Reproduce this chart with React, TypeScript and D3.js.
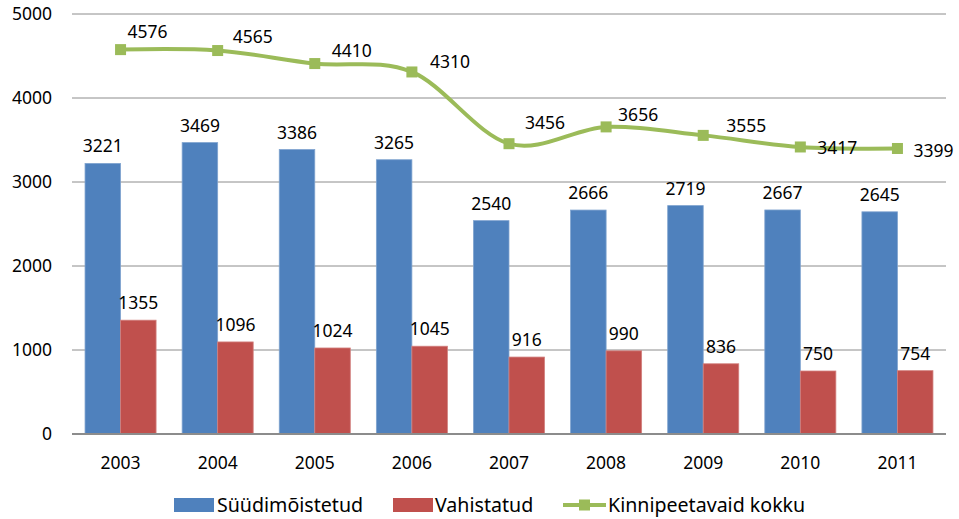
import { useRef, useEffect } from "react";
import * as d3 from "d3";

// andmed (loetud pildilt)
const years = ["2003", "2004", "2005", "2006", "2007", "2008", "2009", "2010", "2011"];
const suudimoistetud = [3221, 3469, 3386, 3265, 2540, 2666, 2719, 2667, 2645];
const vahistatud = [1355, 1096, 1024, 1045, 916, 990, 836, 750, 754];
const kokku = [4576, 4565, 4410, 4310, 3456, 3656, 3555, 3417, 3399];
const yTicks = [0, 1000, 2000, 3000, 4000, 5000];

const seriesNames = ["Süüdimõistetud", "Vahistatud", "Kinnipeetavaid kokku"];
const colors = ["#4F81BD", "#C0504D", "#9BBB59"];

// joone siltide nihked punkti suhtes (käsitsi paigutatud nagu Excelis)
const lineLabelNudge: [number, number][] = [
  [7, -18], [15, -14], [17, -13], [18, -10], [16, -21],
  [12, -12], [23, -10], [17, 1], [16, 2],
];

const W = 959;
const H = 519;
const FONT = "'Noto Sans', 'Open Sans', sans-serif";

const App = () => {
  const svgRef = useRef<SVGSVGElement | null>(null);

  useEffect(() => {
    const svg = d3.select(svgRef.current);
    svg.selectAll("*").remove();

    const x = d3.scaleBand<string>().domain(years).range([72, 946]).padding(0);
    const xInner = d3
      .scaleBand<string>()
      .domain(["a", "b"])
      .range([0, x.bandwidth()])
      .paddingInner(0)
      .paddingOuter(0.367);
    const y = d3.scaleLinear().domain([0, 5000]).range([434, 14]);

    // ruudustik
    const grid = svg.append("g");
    grid
      .selectAll("line")
      .data(yTicks.filter((t) => t > 0))
      .join("line")
      .attr("x1", 72)
      .attr("x2", 946)
      .attr("y1", (d) => y(d))
      .attr("y2", (d) => y(d))
      .attr("stroke", "#8c8c8c")
      .attr("stroke-width", 1);

    // y telje sildid
    svg
      .append("g")
      .selectAll("text")
      .data(yTicks)
      .join("text")
      .attr("x", 52)
      .attr("y", (d) => y(d))
      .attr("dy", "0.35em")
      .attr("text-anchor", "end")
      .attr("font-family", FONT)
      .attr("font-size", 17.5)
      .attr("fill", "#000")
      .text((d) => d);

    // tulbad
    const bars = [suudimoistetud, vahistatud];
    bars.forEach((vals, si) => {
      const key = si === 0 ? "a" : "b";
      const g = svg.append("g");
      g.selectAll("rect")
        .data(vals)
        .join("rect")
        .attr("x", (d, i) => (x(years[i]) as number) + (xInner(key) as number))
        .attr("y", (d) => y(d))
        .attr("width", xInner.bandwidth())
        .attr("height", (d) => y(0) - y(d))
        .attr("fill", colors[si])
        .attr("stroke", si === 0 ? "#7FA3CF" : "#D2807E")
        .attr("stroke-width", 0.8);
      g.selectAll("text")
        .data(vals)
        .join("text")
        .attr("x", (d, i) => (x(years[i]) as number) + (xInner(key) as number) + xInner.bandwidth() / 2)
        .attr("y", (d) => y(d) - 11)
        .attr("text-anchor", "middle")
        .attr("font-family", FONT)
        .attr("font-size", 17.5)
        .attr("fill", "#000")
        .text((d) => d);
    });

    // x telg
    svg
      .append("line")
      .attr("x1", 72)
      .attr("x2", 946)
      .attr("y1", y(0))
      .attr("y2", y(0))
      .attr("stroke", "#8c8c8c")
      .attr("stroke-width", 2);

    svg
      .append("g")
      .selectAll("text")
      .data(years)
      .join("text")
      .attr("x", (d) => (x(d) as number) + x.bandwidth() / 2)
      .attr("y", 463)
      .attr("dy", "0.35em")
      .attr("text-anchor", "middle")
      .attr("font-family", FONT)
      .attr("font-size", 17.5)
      .attr("fill", "#000")
      .text((d) => d);

    // joon
    const cx = (i: number) => (x(years[i]) as number) + x.bandwidth() / 2;
    const lineGen = d3
      .line<number>()
      .x((d, i) => cx(i))
      .y((d) => y(d))
      .curve(d3.curveCardinal.tension(0));

    svg
      .append("path")
      .datum(kokku)
      .attr("d", lineGen)
      .attr("fill", "none")
      .attr("stroke", colors[2])
      .attr("stroke-width", 4)
      .attr("stroke-linejoin", "round");

    svg
      .append("g")
      .selectAll("rect")
      .data(kokku)
      .join("rect")
      .attr("x", (d, i) => cx(i) - 5.5)
      .attr("y", (d) => y(d) - 5.5)
      .attr("width", 11)
      .attr("height", 11)
      .attr("fill", colors[2]);

    svg
      .append("g")
      .selectAll("text")
      .data(kokku)
      .join("text")
      .attr("x", (d, i) => cx(i) + lineLabelNudge[i][0])
      .attr("y", (d, i) => y(d) + lineLabelNudge[i][1])
      .attr("dy", "0.35em")
      .attr("font-family", FONT)
      .attr("font-size", 17.5)
      .attr("fill", "#000")
      .text((d) => d);

    // legend
    const lg = svg.append("g").attr("font-family", FONT).attr("font-size", 19.6).attr("fill", "#000");
    const legendX = [174, 393, 563];
    const legendTextX = [217, 435, 608];
    [0, 1].forEach((i) => {
      lg.append("rect")
        .attr("x", legendX[i])
        .attr("y", 498)
        .attr("width", 40)
        .attr("height", 14)
        .attr("fill", colors[i]);
    });
    lg.append("line")
      .attr("x1", legendX[2])
      .attr("x2", legendX[2] + 43)
      .attr("y1", 505)
      .attr("y2", 505)
      .attr("stroke", colors[2])
      .attr("stroke-width", 4);
    lg.append("rect")
      .attr("x", legendX[2] + 21.5 - 5.5)
      .attr("y", 499.5)
      .attr("width", 11)
      .attr("height", 11)
      .attr("fill", colors[2]);
    seriesNames.forEach((name, i) => {
      lg.append("text")
        .attr("x", legendTextX[i])
        .attr("y", 505)
        .attr("dy", "0.35em")
        .text(name);
    });
  }, []);

  return (
    <svg
      ref={svgRef}
      width={W}
      height={H}
      style={{ position: "absolute", left: 0, top: 0, background: "#fff" }}
    />
  );
};

export default App;
